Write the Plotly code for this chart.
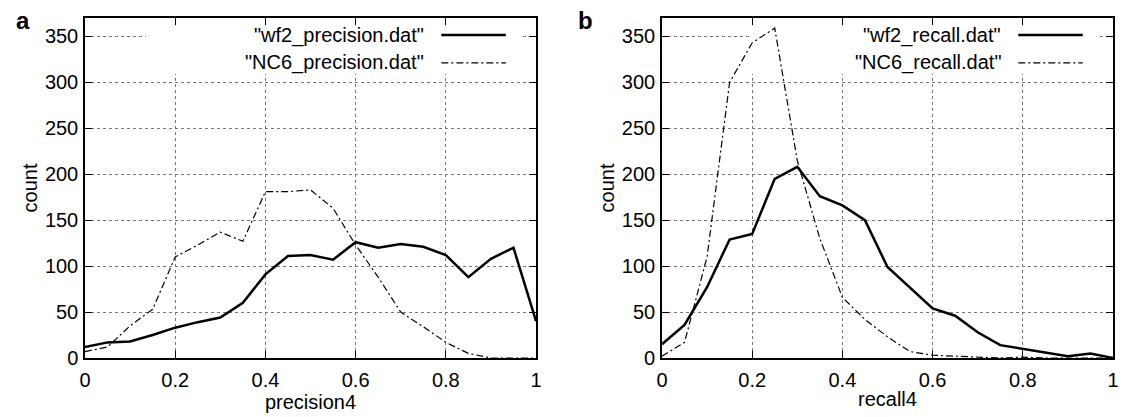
import plotly.graph_objects as go
from plotly.subplots import make_subplots

# bin centres (shared by both panels)
bins = [0.0, 0.05, 0.1, 0.15, 0.2, 0.25, 0.3, 0.35, 0.4, 0.45, 0.5,
        0.55, 0.6, 0.65, 0.7, 0.75, 0.8, 0.85, 0.9, 0.95, 1.0]

wf2_precision = [12, 17, 18, 25, 33, 39, 44, 60, 91, 111, 112,
                 107, 126, 120, 124, 121, 112, 88, 108, 120, 40]
nc6_precision = [7, 12, 35, 53, 110, 123, 137, 127, 181, 181, 183,
                 163, 123, 88, 50, 34, 17, 5, 0, 0, 0]

wf2_recall = [15, 36, 77, 129, 135, 195, 208, 176, 166, 150, 99,
              77, 54, 46, 28, 14, 10, 6, 2, 5, 0]
nc6_recall = [2, 17, 110, 300, 343, 359, 215, 130, 66, 42, 23,
              7, 3, 2, 1, 0, 1, 0, 0, 0, 0]

panels = [
    dict(tag="a", xlabel="precision4",
         series=[('"wf2_precision.dat"', wf2_precision, "solid"),
                 ('"NC6_precision.dat"', nc6_precision, "dashdot")],
         box_left=0.135, tag_x=-0.069),
    dict(tag="b", xlabel="recall4",
         series=[('"wf2_recall.dat"', wf2_recall, "solid"),
                 ('"NC6_recall.dat"', nc6_recall, "dashdot")],
         box_left=0.198, tag_x=0.478),
]

FONT = "Liberation Sans, Arial, sans-serif"
FS = 20
DASHDOT = "7px,3px,2px,3px"
YMAX = 370

fig = make_subplots(rows=1, cols=2, horizontal_spacing=0.1225)

for col, p in enumerate(panels, start=1):
    for name, vals, style in p["series"]:
        if style == "solid":
            line = dict(color="black", width=2.5)
        else:
            line = dict(color="black", width=1.2, dash=DASHDOT)
        fig.add_trace(go.Scatter(x=bins, y=vals, mode="lines", line=line,
                                 name=name, showlegend=False),
                      row=1, col=col)

    xref = "x" if col == 1 else "x2"
    yref = "y" if col == 1 else "y2"

    # opaque key box (hides the grid, sits under the curves)
    fig.add_shape(type="rect", xref=xref, yref=yref,
                  x0=p["box_left"], x1=0.967, y0=0.835 * YMAX, y1=0.979 * YMAX,
                  fillcolor="white", line=dict(width=0), layer="between")

    # hand-drawn key: text on the left, line sample on the right (gnuplot style)
    for k, (name, vals, style) in enumerate(p["series"]):
        yk = (0.950 - k * 0.082) * YMAX
        fig.add_annotation(x=0.757, y=yk, xref=xref, yref=yref, text=name,
                           showarrow=False, xanchor="right", yanchor="middle",
                           font=dict(family=FONT, size=FS, color="black"))
        if style == "solid":
            sl = dict(color="black", width=2.5)
        else:
            sl = dict(color="black", width=1.2, dash=DASHDOT)
        fig.add_shape(type="line", xref=xref, yref=yref,
                      x0=0.79, x1=0.933, y0=yk, y1=yk, line=sl)

    fig.add_annotation(x=p["tag_x"], y=0.994, xref="paper", yref="paper",
                       text=f"<b>{p['tag']}</b>",
                       showarrow=False, xanchor="left", yanchor="middle",
                       font=dict(family=FONT, size=24, color="black"))

axis_common = dict(
    showline=True, linecolor="black", linewidth=1.5, mirror="ticks",
    ticks="inside", ticklen=7, tickwidth=1.2, tickcolor="black",
    showgrid=True, gridcolor="#777777", griddash="dot", gridwidth=1,
    zeroline=False,
    tickfont=dict(family=FONT, size=FS, color="black"),
)

for col in (1, 2):
    fig.update_xaxes(range=[0, 1], tickvals=[0, 0.2, 0.4, 0.6, 0.8, 1],
                     ticktext=["0", "0.2", "0.4", "0.6", "0.8", "1"],
                     title=dict(text=panels[col - 1]["xlabel"], standoff=2,
                                font=dict(family=FONT, size=FS, color="black")),
                     ticklabelstandoff=3,
                     row=1, col=col, **axis_common)
    fig.update_yaxes(range=[0, YMAX], tickvals=list(range(0, 351, 50)),
                     title=dict(text="count", standoff=2,
                                font=dict(family=FONT, size=FS, color="black")),
                     ticklabelstandoff=1,
                     row=1, col=col, **axis_common)

# the page body adds an 8px offset, so the figure is 8px smaller than the window
fig.update_layout(
    width=1118, height=409,
    margin=dict(l=77, r=7, t=10, b=59),
    plot_bgcolor="white", paper_bgcolor="white",
    font=dict(family=FONT, size=FS, color="black"),
)

fig.write_html("out.html")
